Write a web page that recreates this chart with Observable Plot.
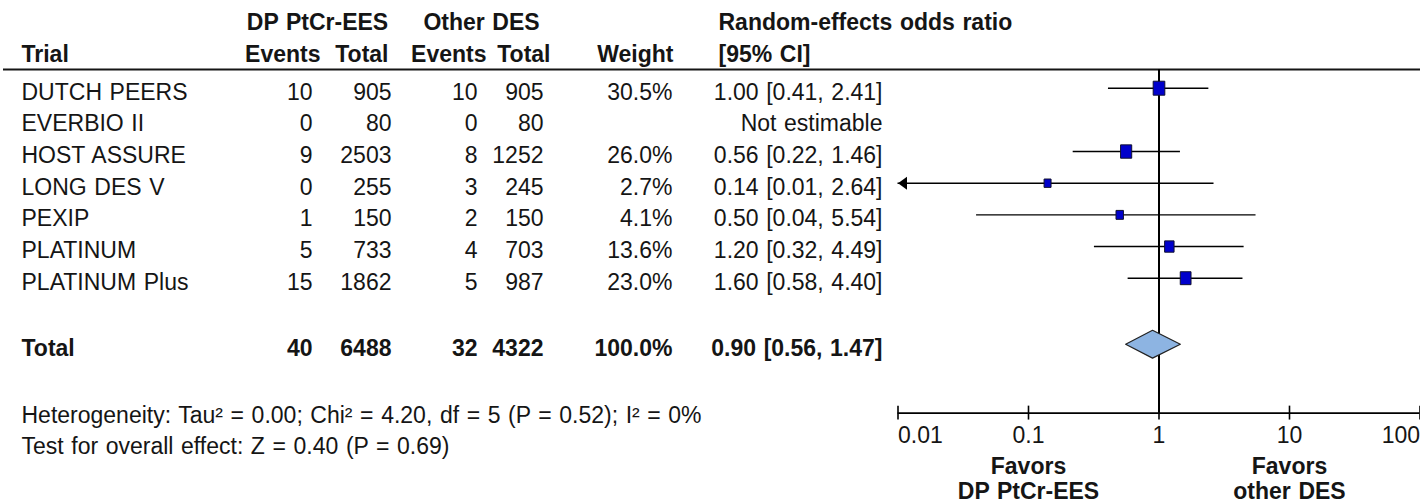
<!DOCTYPE html>
<html>
<head>
<meta charset="utf-8">
<script src="https://cdn.jsdelivr.net/npm/d3@7"></script>
<script src="https://cdn.jsdelivr.net/npm/@observablehq/plot@0.6"></script>
<style>
  html, body { margin: 0; padding: 0; background: #ffffff; }
  #forest { position: relative; width: 1420px; height: 504px; overflow: hidden; }
  #forest svg { position: absolute; left: 0; top: 0; }
  #forest svg text { word-spacing: 1.2px; }
</style>
</head>
<body>
<div id="forest"></div>
<script>
// ---- Study data -------------------------------------------------------
const trials      = ["DUTCH PEERS", "EVERBIO II", "HOST ASSURE", "LONG DES V", "PEXIP", "PLATINUM", "PLATINUM Plus"];
const eventsPt    = [10, 0, 9, 0, 1, 5, 15];
const totalPt     = [905, 80, 2503, 255, 150, 733, 1862];
const eventsOther = [10, 0, 8, 3, 2, 4, 5];
const totalOther  = [905, 80, 1252, 245, 150, 703, 987];
const weights     = [30.5, null, 26.0, 2.7, 4.1, 13.6, 23.0];
const oddsRatio   = [1.00, null, 0.56, 0.14, 0.50, 1.20, 1.60];
const ciLower     = [0.41, null, 0.22, 0.01, 0.04, 0.32, 0.58];
const ciUpper     = [2.41, null, 1.46, 2.64, 5.54, 4.49, 4.40];

// pooled (random-effects) result
const pooledTotals = {eventsPt: 40, totalPt: 6488, eventsOther: 32, totalOther: 4322, weight: 100.0};
const pooledOR     = [0.90, 0.56, 1.47]; // estimate, lower, upper

// heterogeneity / overall effect statistics
const heterogeneity = {tau2: 0.00, chi2: 4.20, df: 5, p: 0.52, i2: 0};
const overallEffect = {z: 0.40, p: 0.69};

// axis
const axisTicks   = [0.01, 0.1, 1, 10, 100];
const favorLabels = [
  {x: 0.1, text: "Favors\nDP PtCr-EES"},
  {x: 10,  text: "Favors\nother DES"}
];

// ---- Layout (rows are in study-row units, columns in pixels) -----------
const rowY = {group: -2.2, head: -1.2, rule: -0.59, total: 8.1, het: 10.21, test: 11.2,
              axis: 10.26, tick: 10.97, favors: 12.34};
const colX = {trial: 21, e1: 312, t1: 391, e2: 477, t2: 543, weight: 672, ci: 882};
const yScale = {domain: [0, 6], range: [87.7, 277.7], axis: null};
const FONT = "'Liberation Sans', Arial, Helvetica, sans-serif";
const FS = 23;
const INK = "#151515";

// ---- Table cells ------------------------------------------------------
const fmt2 = v => v.toFixed(2);
const ciText = (o, l, u) => `${fmt2(o)} [${fmt2(l)}, ${fmt2(u)}]`;

const cells = [];
const push = (x, row, text, anchor, bold) => cells.push({x, row, text, anchor, bold});

// headers
push(317, rowY.group, "DP PtCr-EES", "middle", true);
push(481, rowY.group, "Other DES", "middle", true);
push(718, rowY.group, "Random-effects odds ratio", "start", true);
push(colX.trial, rowY.head, "Trial", "start", true);
push(320, rowY.head, "Events", "end", true);
push(388, rowY.head, "Total", "end", true);
push(486, rowY.head, "Events", "end", true);
push(550, rowY.head, "Total", "end", true);
push(673, rowY.head, "Weight", "end", true);
push(718, rowY.head, "[95% CI]", "start", true);

// study rows
trials.forEach((name, i) => {
  push(colX.trial, i, name, "start", false);
  push(colX.e1, i, String(eventsPt[i]), "end", false);
  push(colX.t1, i, String(totalPt[i]), "end", false);
  push(colX.e2, i, String(eventsOther[i]), "end", false);
  push(colX.t2, i, String(totalOther[i]), "end", false);
  if (weights[i] != null) push(colX.weight, i, weights[i].toFixed(1) + "%", "end", false);
  push(colX.ci, i, oddsRatio[i] == null ? "Not estimable" : ciText(oddsRatio[i], ciLower[i], ciUpper[i]), "end", false);
});

// total row
push(colX.trial, rowY.total, "Total", "start", true);
push(colX.e1, rowY.total, String(pooledTotals.eventsPt), "end", true);
push(colX.t1, rowY.total, String(pooledTotals.totalPt), "end", true);
push(colX.e2, rowY.total, String(pooledTotals.eventsOther), "end", true);
push(colX.t2, rowY.total, String(pooledTotals.totalOther), "end", true);
push(colX.weight, rowY.total, pooledTotals.weight.toFixed(1) + "%", "end", true);
push(colX.ci, rowY.total, ciText(...pooledOR), "end", true);

// footnotes
const h = heterogeneity;
push(colX.trial, rowY.het,
  `Heterogeneity: Tau² = ${h.tau2.toFixed(2)}; Chi² = ${h.chi2.toFixed(2)}, df = ${h.df} (P = ${h.p.toFixed(2)}); I² = ${h.i2}%`,
  "start", false);
push(colX.trial, rowY.test,
  `Test for overall effect: Z = ${overallEffect.z.toFixed(2)} (P = ${overallEffect.p.toFixed(2)})`,
  "start", false);

const textMarks = [];
for (const anchor of ["start", "middle", "end"]) {
  for (const bold of [false, true]) {
    const subset = cells.filter(c => c.anchor === anchor && c.bold === bold);
    if (!subset.length) continue;
    textMarks.push(Plot.text(subset, {
      x: "x", y: "row", text: "text", textAnchor: anchor, dy: 4,
      fontSize: FS, fontWeight: bold ? "bold" : "normal", fill: INK
    }));
  }
}

const table = Plot.plot({
  width: 1420, height: 504,
  marginTop: 0, marginRight: 0, marginBottom: 0, marginLeft: 0,
  style: {fontFamily: FONT, background: "transparent"},
  x: {type: "identity", axis: null},
  y: yScale,
  marks: [
    Plot.ruleY([rowY.rule], {x1: 3, x2: 1420, stroke: INK, strokeWidth: 2}),
    ...textMarks
  ]
});

// ---- Forest plot --------------------------------------------------------
const studies = trials.map((name, i) => ({
  name, row: i, or: oddsRatio[i], lo: ciLower[i], hi: ciUpper[i], weight: weights[i]
})).filter(d => d.or != null);

const xMin = axisTicks[0], xMax = axisTicks[axisTicks.length - 1];

// study marker: a box slightly taller than wide
const boxSymbol = {
  draw(ctx, size) {
    const w = Math.sqrt(size / 1.2), hh = 1.2 * w;
    ctx.rect(-w / 2, -hh / 2, w, hh);
  }
};
// left-pointing arrow head for intervals running off the axis
const arrowLeft = {
  draw(ctx) {
    ctx.moveTo(0, 0);
    ctx.lineTo(9, -6.5);
    ctx.lineTo(9, 6.5);
    ctx.closePath();
  }
};

const [pEst, pLo, pHi] = pooledOR;
const diamondHalf = 0.44;
const diamond = [
  {y: rowY.total - diamondHalf, x1: pEst, x2: pEst},
  {y: rowY.total, x1: pLo, x2: pHi},
  {y: rowY.total + diamondHalf, x1: pEst, x2: pEst}
];
const tickHalf = 0.22;

const forest = Plot.plot({
  width: 1420, height: 504,
  marginTop: 0, marginRight: 0, marginBottom: 0, marginLeft: 0,
  style: {fontFamily: FONT, background: "transparent"},
  x: {type: "log", domain: [xMin, xMax], range: [897.5, 1419.5], axis: null},
  y: yScale,
  r: {type: "sqrt", domain: [2.7, 30.5], range: [4.3, 7.2]},
  marks: [
    // line of no effect
    Plot.ruleX([1], {y1: rowY.rule, y2: rowY.axis, stroke: "#000", strokeWidth: 2}),
    // confidence intervals
    Plot.ruleY(studies, {y: "row", x1: d => Math.max(d.lo, xMin), x2: d => Math.min(d.hi, xMax),
      stroke: "#000", strokeWidth: 1.4}),
    Plot.dot(studies.filter(d => d.lo <= xMin), {x: () => xMin, y: "row", symbol: arrowLeft,
      r: 5, fill: "#000", stroke: "none"}),
    // study estimates sized by weight
    Plot.dot(studies, {x: "or", y: "row", r: "weight", symbol: boxSymbol,
      fill: "#0000cc", stroke: "#101030", strokeWidth: 1}),
    // pooled diamond
    Plot.areaX(diamond, {y: "y", x1: "x1", x2: "x2", fill: "#8db4e2", stroke: "#222", strokeWidth: 1.2}),
    // bottom axis
    Plot.ruleY([rowY.axis], {x1: xMin, x2: xMax, stroke: "#000", strokeWidth: 1.6}),
    Plot.ruleX(axisTicks, {x: d => d, y1: rowY.axis - tickHalf, y2: rowY.axis + tickHalf, stroke: "#000", strokeWidth: 1.6}),
    Plot.text(axisTicks.slice(0, 1), {x: d => d, y: rowY.tick, text: d => String(d), textAnchor: "start", fontSize: FS, fill: INK}),
    Plot.text(axisTicks.slice(1, -1), {x: d => d, y: rowY.tick, text: d => String(d), textAnchor: "middle", fontSize: FS, fill: INK}),
    Plot.text(axisTicks.slice(-1), {x: d => d, y: rowY.tick, text: d => String(d), textAnchor: "end", fontSize: FS, fill: INK}),
    Plot.text(favorLabels, {x: "x", y: rowY.favors, text: "text", textAnchor: "middle", lineHeight: 1.087,
      fontSize: FS, fontWeight: "bold", fill: INK})
  ]
});

const host = document.getElementById("forest");
host.append(table, forest);
</script>
</body>
</html>
